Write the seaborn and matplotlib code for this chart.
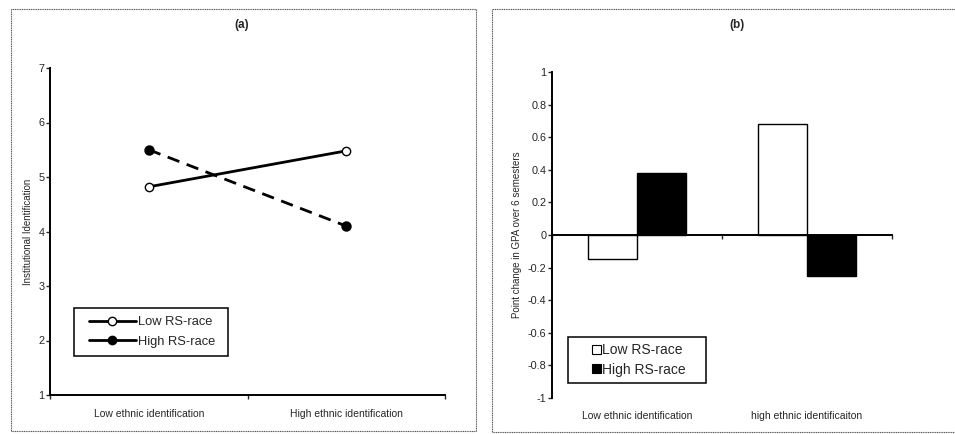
import numpy as np
import pandas as pd
import seaborn as sns
import matplotlib.pyplot as plt
from matplotlib.lines import Line2D
from matplotlib.patches import Patch, Rectangle

# data
groups = ["Low RS-race", "High RS-race"]
cats_a = ["Low ethnic identification", "High ethnic identification"]
inst_low = [4.82, 5.48]
inst_high = [5.50, 4.10]

cats_b = ["Low ethnic identification", "high ethnic identificaiton"]
gpa_low = [-0.15, 0.68]
gpa_high = [0.38, -0.25]

sns.set_style("ticks")
plt.rcParams["font.family"] = ["Liberation Sans", "DejaVu Sans"]

df_a = pd.DataFrame({
    "ethnic": cats_a * 2,
    "group": [groups[0]] * 2 + [groups[1]] * 2,
    "value": inst_low + inst_high,
})
df_b = pd.DataFrame({
    "ethnic": cats_b * 2,
    "group": [groups[0]] * 2 + [groups[1]] * 2,
    "value": gpa_low + gpa_high,
})

W, H = 955, 434
fig = plt.figure(figsize=(W / 100, H / 100), dpi=100)

def fbox(x0, y0, x1, y1):
    # pixel box (top-left origin) -> figure fraction
    return [x0 / W, 1 - y1 / H, (x1 - x0) / W, (y1 - y0) / H]

def frame(x0, y0, x1, y1, lw=0.8, color="#555555", ls=(0, (1, 0.6))):
    fig.patches.append(Rectangle((x0 / W, 1 - y1 / H), (x1 - x0) / W, (y1 - y0) / H,
                                 transform=fig.transFigure, fill=False, zorder=5,
                                 edgecolor=color, linewidth=lw, linestyle=ls))

# panel frames
frame(11, 9, 476, 431)
frame(492, 9, 960, 432)

def style_axes(ax):
    for s in ["top", "right"]:
        ax.spines[s].set_visible(False)
    for s in ["left", "bottom"]:
        ax.spines[s].set_linewidth(1.4)
        ax.spines[s].set_color("black")
    ax.set_xlim(-0.5, 1.5)
    ax.set_xticks([-0.5, 0.5, 1.5])
    ax.set_xticklabels([])
    ax.tick_params(axis="x", which="major", length=3, width=1, direction="out")
    ax.tick_params(axis="y", length=3, width=1, direction="out", labelsize=7.8, pad=1)
    ax.set_xlabel("")

# ---- (a) line chart ----
ax_a = fig.add_axes(fbox(50, 68, 445, 395))
sns.pointplot(data=df_a, x="ethnic", y="value", hue="group", order=cats_a,
              hue_order=groups, palette=["black", "black"], markers=["o", "o"],
              linestyles=["-", "--"], errorbar=None, markersize=6,
              linewidth=2, ax=ax_a, legend=False)
ax_a.lines[0].set_markerfacecolor("white")
ax_a.lines[0].set_markeredgewidth(1.0)
ax_a.lines[1].set_dashes([4.5, 2.8])
style_axes(ax_a)
ax_a.set_ylim(1, 7)
ax_a.set_yticks(range(1, 8))
ax_a.set_xticks([0, 1], minor=True)
ax_a.set_xticklabels(cats_a, minor=True, fontsize=7.5)
ax_a.tick_params(axis="x", which="minor", length=0, pad=10)
ax_a.set_ylabel("Institutional Identification", fontsize=7, labelpad=4)
fig.text(242 / W, 1 - 25 / H, "(a)", ha="center", va="center",
         fontsize=8.5, fontweight="bold")

handles_a = [
    Line2D([], [], color="black", lw=2, marker="o", markersize=6,
           markerfacecolor="white", markeredgewidth=1.0),
    Line2D([], [], color="black", lw=2, marker="o", markersize=6),
]
ax_a.legend(handles_a, groups, loc="center",
            bbox_to_anchor=(152 / W, 1 - 332 / H), bbox_transform=fig.transFigure,
            frameon=False, fontsize=9.3, handlelength=3.6, handletextpad=0.15,
            borderpad=0, labelspacing=0.6)
frame(74, 308, 228, 356, lw=1.1, color="black", ls="-")

# ---- (b) bar chart ----
ax_b = fig.add_axes(fbox(552, 72, 892, 398))
sns.barplot(data=df_b, x="ethnic", y="value", hue="group", order=cats_b,
            hue_order=groups, palette=["white", "black"], edgecolor="black",
            linewidth=1.0, width=0.58, ax=ax_b, legend=False)
style_axes(ax_b)
ax_b.spines["bottom"].set_position(("data", 0))
ax_b.set_ylim(-1, 1)
yt = np.round(np.arange(-1, 1.01, 0.2), 1)
ax_b.set_yticks(yt)
ax_b.set_yticklabels([f"{v:g}" if v != 0 else "0" for v in yt])
for i, c in enumerate(cats_b):
    ax_b.text(i, -0.055, c, transform=ax_b.get_xaxis_transform(),
              ha="center", va="center", fontsize=7.5)
ax_b.set_ylabel("Point change in GPA over 6 semesters", fontsize=7, labelpad=4)
fig.text(737 / W, 1 - 25 / H, "(b)", ha="center", va="center",
         fontsize=8.5, fontweight="bold")

handles_b = [Patch(facecolor="white", edgecolor="black", lw=0.8),
             Patch(facecolor="black", edgecolor="black", lw=0.8)]
ax_b.legend(handles_b, groups, loc="center",
            bbox_to_anchor=(639 / W, 1 - 360 / H), bbox_transform=fig.transFigure,
            frameon=False, fontsize=10, handlelength=0.6, handleheight=0.6,
            handletextpad=0.1, borderpad=0, labelspacing=0.4)
frame(568, 337, 706, 383, lw=1.1, color="black", ls="-")

fig.savefig("out.png", dpi=100)
